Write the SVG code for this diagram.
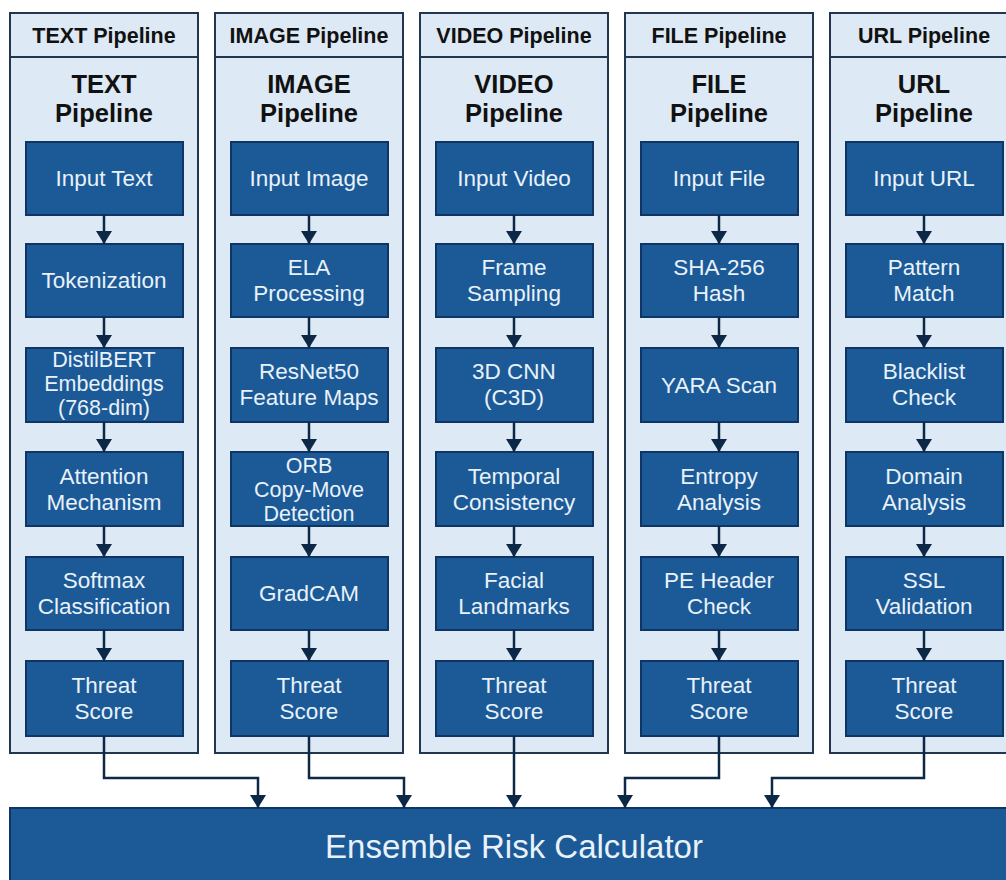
<svg xmlns="http://www.w3.org/2000/svg" width="1006" height="880" viewBox="0 0 1006 880">
  <style>
    .col { fill: #dde9f4; stroke: #22364f; stroke-width: 2; }
    .div { stroke: #22364f; stroke-width: 2; }
    .hdr { font-family: "Liberation Sans", Arial, sans-serif; font-weight: bold; font-size: 21.5px; fill: #111; text-anchor: middle; }
    .ttl { font-family: "Liberation Sans", Arial, sans-serif; font-weight: bold; font-size: 25.5px; fill: #111; text-anchor: middle; }
    .box { fill: #1b5a97; stroke: #0e3563; stroke-width: 2; }
    .lbl { font-family: "Liberation Sans", Arial, sans-serif; font-size: 22.5px; fill: #e9f1f9; text-anchor: middle; }
    .lbl3 { font-family: "Liberation Sans", Arial, sans-serif; font-size: 21.5px; fill: #e9f1f9; text-anchor: middle; }
    .big { font-family: "Liberation Sans", Arial, sans-serif; font-size: 33px; fill: #e9f1f9; text-anchor: middle; }
    .edge { fill: none; stroke: #0c2846; stroke-width: 2.5; marker-end: url(#arr); }
  </style>
  <defs>
    <marker id="arr" viewBox="0 0 13 16" markerWidth="13" markerHeight="16" markerUnits="userSpaceOnUse" refX="13" refY="8" orient="auto">
      <path d="M0,0 L13,8 L0,16 z" fill="#0c2846"/>
    </marker>
  </defs>
  <rect width="1006" height="880" fill="#ffffff"/>

  <!-- pipeline columns -->
  <g id="col-text">
    <rect class="col" x="10" y="13" width="188" height="740"/>
    <line class="div" x1="10" y1="57" x2="198" y2="57"/>
    <text class="hdr" x="104" y="43">TEXT Pipeline</text>
    <text class="ttl" x="104" y="93">TEXT</text>
    <text class="ttl" x="104" y="122">Pipeline</text>
  </g>
  <g id="col-image">
    <rect class="col" x="215" y="13" width="188" height="740"/>
    <line class="div" x1="215" y1="57" x2="403" y2="57"/>
    <text class="hdr" x="309" y="43">IMAGE Pipeline</text>
    <text class="ttl" x="309" y="93">IMAGE</text>
    <text class="ttl" x="309" y="122">Pipeline</text>
  </g>
  <g id="col-video">
    <rect class="col" x="420" y="13" width="188" height="740"/>
    <line class="div" x1="420" y1="57" x2="608" y2="57"/>
    <text class="hdr" x="514" y="43">VIDEO Pipeline</text>
    <text class="ttl" x="514" y="93">VIDEO</text>
    <text class="ttl" x="514" y="122">Pipeline</text>
  </g>
  <g id="col-file">
    <rect class="col" x="625" y="13" width="188" height="740"/>
    <line class="div" x1="625" y1="57" x2="813" y2="57"/>
    <text class="hdr" x="719" y="43">FILE Pipeline</text>
    <text class="ttl" x="719" y="93">FILE</text>
    <text class="ttl" x="719" y="122">Pipeline</text>
  </g>
  <g id="col-url">
    <rect class="col" x="830" y="13" width="188" height="740"/>
    <line class="div" x1="830" y1="57" x2="1018" y2="57"/>
    <text class="hdr" x="924" y="43">URL Pipeline</text>
    <text class="ttl" x="924" y="93">URL</text>
    <text class="ttl" x="924" y="122">Pipeline</text>
  </g>

  <!-- TEXT pipeline steps -->
  <g id="text-input"><rect class="box" x="26" y="142" width="157" height="73"/><text class="lbl" x="104" y="186">Input Text</text></g>
  <g id="text-token"><rect class="box" x="26" y="244" width="157" height="73"/><text class="lbl" x="104" y="288">Tokenization</text></g>
  <g id="text-embed"><rect class="box" x="26" y="348" width="157" height="74"/><text class="lbl3" x="104" y="367">DistilBERT</text><text class="lbl3" x="104" y="391">Embeddings</text><text class="lbl3" x="104" y="415">(768-dim)</text></g>
  <g id="text-attn"><rect class="box" x="26" y="452" width="157" height="74"/><text class="lbl" x="104" y="484">Attention</text><text class="lbl" x="104" y="510">Mechanism</text></g>
  <g id="text-softmax"><rect class="box" x="26" y="557" width="157" height="73"/><text class="lbl" x="104" y="588">Softmax</text><text class="lbl" x="104" y="614">Classification</text></g>
  <g id="text-score"><rect class="box" x="26" y="661" width="157" height="75"/><text class="lbl" x="104" y="693">Threat</text><text class="lbl" x="104" y="719">Score</text></g>

  <!-- IMAGE pipeline steps -->
  <g id="image-input"><rect class="box" x="231" y="142" width="157" height="73"/><text class="lbl" x="309" y="186">Input Image</text></g>
  <g id="image-ela"><rect class="box" x="231" y="244" width="157" height="73"/><text class="lbl" x="309" y="275">ELA</text><text class="lbl" x="309" y="301">Processing</text></g>
  <g id="image-resnet"><rect class="box" x="231" y="348" width="157" height="74"/><text class="lbl" x="309" y="379">ResNet50</text><text class="lbl" x="309" y="405">Feature Maps</text></g>
  <g id="image-orb"><rect class="box" x="231" y="452" width="157" height="74"/><text class="lbl3" x="309" y="473">ORB</text><text class="lbl3" x="309" y="497">Copy-Move</text><text class="lbl3" x="309" y="521">Detection</text></g>
  <g id="image-gradcam"><rect class="box" x="231" y="557" width="157" height="73"/><text class="lbl" x="309" y="601">GradCAM</text></g>
  <g id="image-score"><rect class="box" x="231" y="661" width="157" height="75"/><text class="lbl" x="309" y="693">Threat</text><text class="lbl" x="309" y="719">Score</text></g>

  <!-- VIDEO pipeline steps -->
  <g id="video-input"><rect class="box" x="436" y="142" width="157" height="73"/><text class="lbl" x="514" y="186">Input Video</text></g>
  <g id="video-frames"><rect class="box" x="436" y="244" width="157" height="73"/><text class="lbl" x="514" y="275">Frame</text><text class="lbl" x="514" y="301">Sampling</text></g>
  <g id="video-c3d"><rect class="box" x="436" y="348" width="157" height="74"/><text class="lbl" x="514" y="379">3D CNN</text><text class="lbl" x="514" y="405">(C3D)</text></g>
  <g id="video-temporal"><rect class="box" x="436" y="452" width="157" height="74"/><text class="lbl" x="514" y="484">Temporal</text><text class="lbl" x="514" y="510">Consistency</text></g>
  <g id="video-facial"><rect class="box" x="436" y="557" width="157" height="73"/><text class="lbl" x="514" y="588">Facial</text><text class="lbl" x="514" y="614">Landmarks</text></g>
  <g id="video-score"><rect class="box" x="436" y="661" width="157" height="75"/><text class="lbl" x="514" y="693">Threat</text><text class="lbl" x="514" y="719">Score</text></g>

  <!-- FILE pipeline steps -->
  <g id="file-input"><rect class="box" x="641" y="142" width="157" height="73"/><text class="lbl" x="719" y="186">Input File</text></g>
  <g id="file-sha"><rect class="box" x="641" y="244" width="157" height="73"/><text class="lbl" x="719" y="275">SHA-256</text><text class="lbl" x="719" y="301">Hash</text></g>
  <g id="file-yara"><rect class="box" x="641" y="348" width="157" height="74"/><text class="lbl" x="719" y="393">YARA Scan</text></g>
  <g id="file-entropy"><rect class="box" x="641" y="452" width="157" height="74"/><text class="lbl" x="719" y="484">Entropy</text><text class="lbl" x="719" y="510">Analysis</text></g>
  <g id="file-pe"><rect class="box" x="641" y="557" width="157" height="73"/><text class="lbl" x="719" y="588">PE Header</text><text class="lbl" x="719" y="614">Check</text></g>
  <g id="file-score"><rect class="box" x="641" y="661" width="157" height="75"/><text class="lbl" x="719" y="693">Threat</text><text class="lbl" x="719" y="719">Score</text></g>

  <!-- URL pipeline steps -->
  <g id="url-input"><rect class="box" x="846" y="142" width="157" height="73"/><text class="lbl" x="924" y="186">Input URL</text></g>
  <g id="url-pattern"><rect class="box" x="846" y="244" width="157" height="73"/><text class="lbl" x="924" y="275">Pattern</text><text class="lbl" x="924" y="301">Match</text></g>
  <g id="url-blacklist"><rect class="box" x="846" y="348" width="157" height="74"/><text class="lbl" x="924" y="379">Blacklist</text><text class="lbl" x="924" y="405">Check</text></g>
  <g id="url-domain"><rect class="box" x="846" y="452" width="157" height="74"/><text class="lbl" x="924" y="484">Domain</text><text class="lbl" x="924" y="510">Analysis</text></g>
  <g id="url-ssl"><rect class="box" x="846" y="557" width="157" height="73"/><text class="lbl" x="924" y="588">SSL</text><text class="lbl" x="924" y="614">Validation</text></g>
  <g id="url-score"><rect class="box" x="846" y="661" width="157" height="75"/><text class="lbl" x="924" y="693">Threat</text><text class="lbl" x="924" y="719">Score</text></g>

  <!-- aggregator -->
  <g id="ensemble">
    <rect class="box" x="10" y="808" width="1010" height="80"/>
    <text class="big" x="514" y="858">Ensemble Risk Calculator</text>
  </g>

  <!-- connectors -->
  <g id="connectors">
    <path class="edge" d="M104,215 V244"/>
    <path class="edge" d="M104,317 V348"/>
    <path class="edge" d="M104,422 V452"/>
    <path class="edge" d="M104,526 V557"/>
    <path class="edge" d="M104,630 V661"/>

    <path class="edge" d="M309,215 V244"/>
    <path class="edge" d="M309,317 V348"/>
    <path class="edge" d="M309,422 V452"/>
    <path class="edge" d="M309,526 V557"/>
    <path class="edge" d="M309,630 V661"/>

    <path class="edge" d="M514,215 V244"/>
    <path class="edge" d="M514,317 V348"/>
    <path class="edge" d="M514,422 V452"/>
    <path class="edge" d="M514,526 V557"/>
    <path class="edge" d="M514,630 V661"/>

    <path class="edge" d="M719,215 V244"/>
    <path class="edge" d="M719,317 V348"/>
    <path class="edge" d="M719,422 V452"/>
    <path class="edge" d="M719,526 V557"/>
    <path class="edge" d="M719,630 V661"/>

    <path class="edge" d="M924,215 V244"/>
    <path class="edge" d="M924,317 V348"/>
    <path class="edge" d="M924,422 V452"/>
    <path class="edge" d="M924,526 V557"/>
    <path class="edge" d="M924,630 V661"/>

    <path class="edge" d="M104,736 V778 H258 V808"/>
    <path class="edge" d="M309,736 V778 H404 V808"/>
    <path class="edge" d="M514,736 V808"/>
    <path class="edge" d="M719,736 V778 H625 V808"/>
    <path class="edge" d="M924,736 V778 H772 V808"/>
  </g>
</svg>
